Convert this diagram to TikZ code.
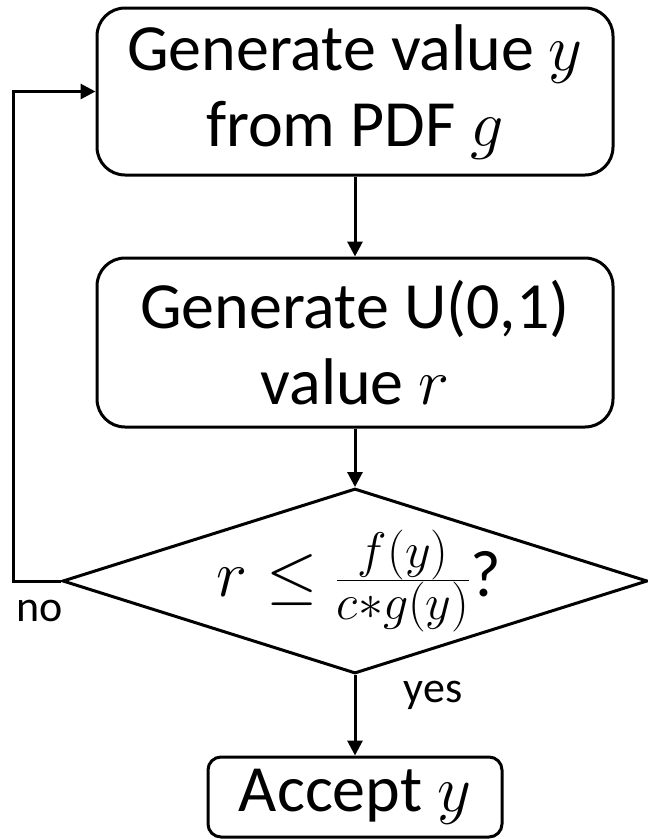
\documentclass[tikz,border=0pt]{standalone}
\usepackage{fix-cm}
\usepackage{fontspec}
\setmainfont{Carlito}
\usetikzlibrary{arrows.meta,shapes.geometric}
% numerator and denominator of the test ratio, set larger than script size
\newcommand\ratiopart[1]{\mbox{\fontsize{50}{56}\selectfont$#1$}}
\begin{document}
\begin{tikzpicture}[x=1pt,y=-1pt,
  txt/.style={font=\fontsize{66}{76}\selectfont, align=center, inner sep=0pt},
  stepbox/.style={draw, line width=3pt, txt, minimum width=516pt},
  decision/.style={draw, diamond, line width=3pt, inner sep=0pt,
    minimum width=585pt, minimum height=185pt},
  flow/.style={line width=3pt, -{Triangle[length=15pt,width=15pt]}},
  tag/.style={font=\fontsize{44}{50}\selectfont, inner sep=0pt, anchor=base}]
\useasboundingbox (0,0) rectangle (648,839);

% process steps
\node[stepbox, rounded corners=28pt, minimum height=167pt] (gen) at (355,91.5)
  {Generate value $y$\\from PDF $g$};
\node[stepbox, rounded corners=28pt, minimum height=169pt] (unif) at (355,342.5)
  {Generate U(0,1)\\value $r$};

% acceptance test
\node[decision] (test) at (355,581) {};
\node[txt] (cond) at ([xshift=4pt]test.center)
  {$r \le \frac{\ratiopart{f(y)}}{\ratiopart{c{\ast}g(y)}}$?};

% result
\node[stepbox, rounded corners=13pt, minimum width=294pt, minimum height=80pt]
  (accept) at (355,797) {Accept $y$};

% connectors
\coordinate (back) at (13,581);
\draw[flow] (gen) -- (unif);
\draw[flow] (unif) -- (test);
\draw[flow] (test) -- (accept);
\draw[flow] (test.west) -- (back) |- (gen.west);

% branch labels
\node[tag] (no) at (40,621) {no};
\node[tag] (yes) at (433,702) {yes};
\end{tikzpicture}
\end{document}
